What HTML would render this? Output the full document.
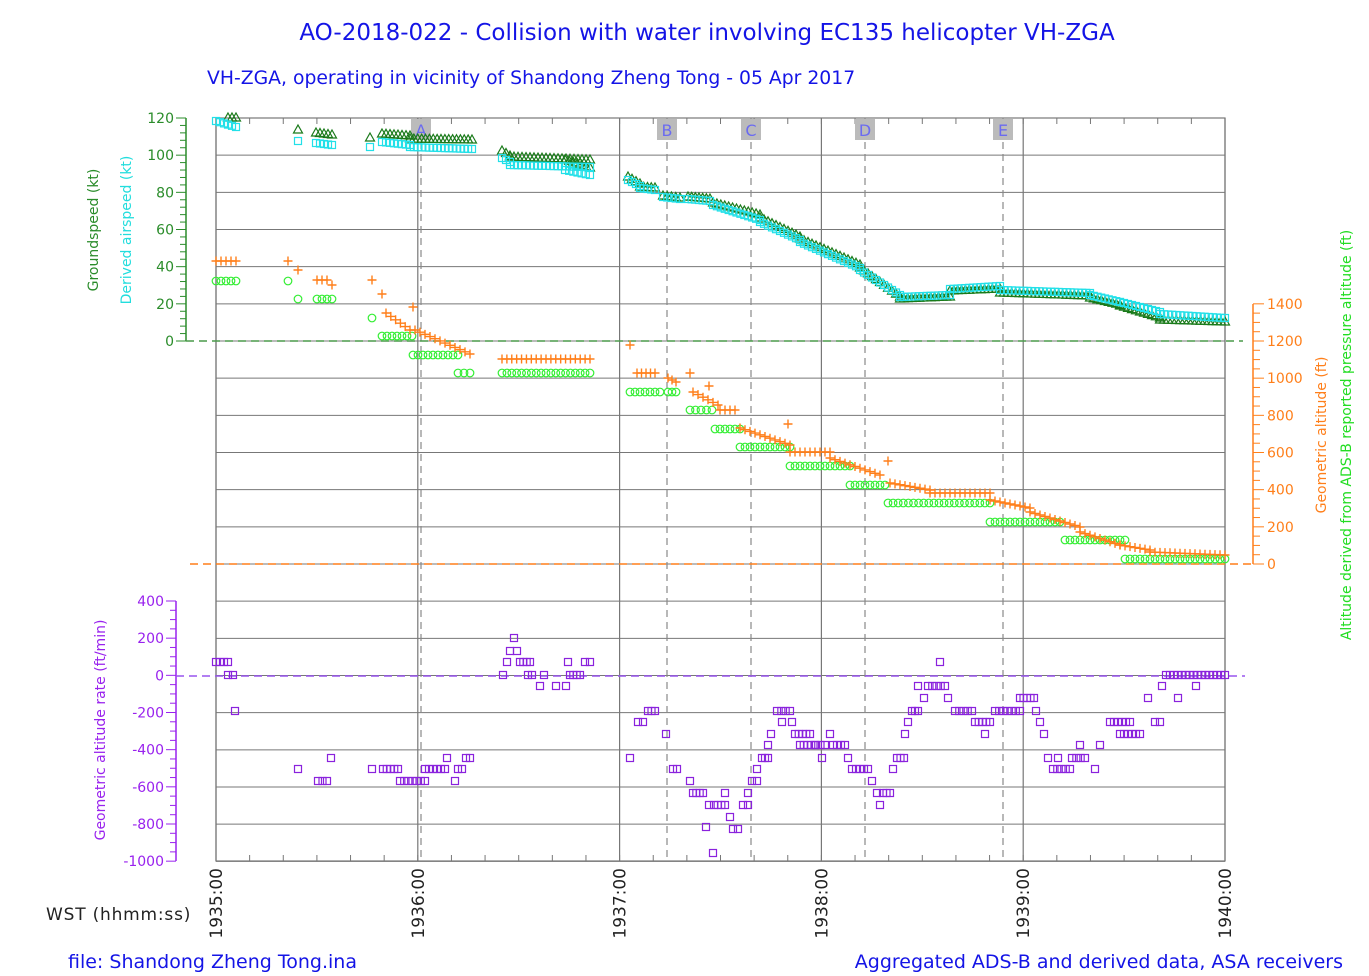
<!DOCTYPE html>
<html><head><meta charset="utf-8"><style>
body{margin:0;background:#fff}
svg{display:block;font-family:"DejaVu Sans","Liberation Sans",sans-serif}
</style></head><body>
<svg id="s" width="1369" height="976" xmlns="http://www.w3.org/2000/svg">
<text x="707" y="40" font-size="23" fill="#1414e6" text-anchor="middle">AO-2018-022 - Collision with water involving EC135 helicopter VH-ZGA</text>
<text x="207" y="84" font-size="18.8" fill="#1414e6">VH-ZGA, operating in vicinity of Shandong Zheng Tong - 05 Apr 2017</text>
<text x="68" y="968" font-size="19" fill="#1414e6">file: Shandong Zheng Tong.ina</text>
<text x="1343" y="968" font-size="19" fill="#1414e6" text-anchor="end">Aggregated ADS-B and derived data, ASA receivers</text>
<text x="46" y="920" font-size="17" fill="#222" letter-spacing="0.8">WST (hhmm:ss)</text>
<g id="grid"></g>
<g id="data"></g>
</svg>
<script>
const s=document.getElementById('grid'),d=document.getElementById('data');
const NS='http://www.w3.org/2000/svg';
function el(p,tag,a,txt){const e=document.createElementNS(NS,tag);for(const k in a)e.setAttribute(k,a[k]);if(txt!==undefined)e.textContent=txt;p.appendChild(e);return e;}
const L=216,R=1225,T=118,B=861,step=(341-118)/6;
for(let i=0;i<=20;i++){const y=T+i*step;el(s,'line',{x1:L,x2:R,y1:y,y2:y,stroke:'#777','stroke-width':1});}
el(s,'rect',{x:L,y:T,width:R-L,height:B-T,fill:'none',stroke:'#777','stroke-width':1.2});
const mw=(R-L)/5;
for(let i=0;i<=5;i++){const x=L+i*mw;el(s,'line',{x1:x,x2:x,y1:T,y2:B,stroke:'#777','stroke-width':1.2});
 el(s,'text',{x:0,y:0,'font-size':17,fill:'#222','text-anchor':'end',transform:`translate(${x+6},868) rotate(-90)`},(1935+i)+':00');}
for(let i=0;i<30;i++){const x=L+i*mw/6;el(s,'line',{x1:x,x2:x,y1:B,y2:B-6,stroke:'#777'});el(s,'line',{x1:x,x2:x,y1:T,y2:T+6,stroke:'#777'});}
[['A',421],['B',667],['C',751],['D',865],['E',1003]].forEach(([n,x])=>{
 el(s,'line',{x1:x,x2:x,y1:T,y2:B,stroke:'#888','stroke-dasharray':'7,5','stroke-width':1.2});
 el(s,'rect',{x:x-10,y:119,width:20,height:21,fill:'#bbb'});
 el(s,'text',{x:x,y:136,'font-size':16,fill:'#6b6bf0','text-anchor':'middle'},n);});
const G='#2a8c2a';
el(s,'line',{x1:186,x2:186,y1:T,y2:341,stroke:G,'stroke-width':1.5});
for(let i=0;i<=30;i++){const y=T+i*step/5;el(s,'line',{x1:i%5?180:176,x2:186,y1:y,y2:y,stroke:G});}
for(let i=0;i<=6;i++){el(s,'text',{x:174,y:T+i*step+5,'font-size':14,fill:G,'text-anchor':'end'},120-i*20);}
el(s,'text',{transform:'translate(98,230) rotate(-90)','font-size':14,fill:G,'text-anchor':'middle'},'Groundspeed (kt)');
el(s,'text',{transform:'translate(131,230) rotate(-90)','font-size':14,fill:'#22dddd','text-anchor':'middle'},'Derived airspeed (kt)');
el(s,'line',{x1:186,x2:1243,y1:341,y2:341,stroke:'#4a9a4a','stroke-dasharray':'8,5','stroke-width':1.5});
const O='#ff7f1a';
el(s,'line',{x1:1253,x2:1253,y1:304,y2:564,stroke:O,'stroke-width':1.5});
for(let i=0;i<=28;i++){const y=564-i*step/4;el(s,'line',{x1:1253,x2:i%4?1260:1264,y1:y,y2:y,stroke:O});}
for(let i=0;i<=7;i++){el(s,'text',{x:1267,y:564-i*step+5,'font-size':14,fill:O},i*200);}
el(s,'text',{transform:'translate(1326,435) rotate(-90)','font-size':14,fill:O,'text-anchor':'middle'},'Geometric altitude (ft)');
el(s,'text',{transform:'translate(1351,435) rotate(-90)','font-size':14,fill:'#22dd22','text-anchor':'middle'},'Altitude derived from ADS-B reported pressure altitude (ft)');
el(s,'line',{x1:190,x2:1253,y1:564,y2:564,stroke:O,'stroke-dasharray':'8,5','stroke-width':1.5});
const P='#9922ee';
el(s,'line',{x1:176,x2:176,y1:601,y2:861,stroke:P,'stroke-width':1.5});
for(let i=0;i<=28;i++){const y=601+i*step/4;el(s,'line',{x1:i%4?170:166,x2:176,y1:y,y2:y,stroke:P});}
for(let i=0;i<=7;i++){el(s,'text',{x:164,y:601+i*step+5,'font-size':14,fill:P,'text-anchor':'end'},400-i*200);}
el(s,'text',{transform:'translate(105,730) rotate(-90)','font-size':14,fill:P,'text-anchor':'middle'},'Geometric altitude rate (ft/min)');
el(s,'line',{x1:176,x2:1245,y1:676,y2:676,stroke:'#9955ee','stroke-dasharray':'8,5','stroke-width':1.5});
function runs(list,sp){const pts=[];list.forEach(r=>{if(r.length==2)pts.push(r);else{const[x1,x2,y1,y2]=r;const y2b=y2===undefined?y1:y2;const n=Math.max(1,Math.round((x2-x1)/sp));for(let i=0;i<=n;i++){pts.push([x1+(x2-x1)*i/n,y1+(y2b-y1)*i/n]);}}});return pts;}
function tri(x,y,c){el(d,'path',{d:`M${x} ${y-5}L${x+4.5} ${y+3}L${x-4.5} ${y+3}Z`,fill:'none',stroke:c,'stroke-width':1.2});}
function sq(x,y,c){el(d,'rect',{x:x-3.5,y:y-3.5,width:7,height:7,fill:'none',stroke:c,'stroke-width':1.2});}
function circ(x,y,c){el(d,'circle',{cx:x,cy:y,r:3.8,fill:'none',stroke:c,'stroke-width':1.2});}
function plus(x,y,c){el(d,'path',{d:`M${x-4.5} ${y}H${x+4.5}M${x} ${y-4.5}V${y+4.5}`,stroke:c,'stroke-width':1.4});}
const AS=[[216,236,121,127],[298,141],[316,332,143,145],[370,147],[382,410,142,145],[410,472,147,149],[502,510,158,162],[510,590,165,167],[565,590,170,175],[628,640,180,186],[640,655,188,190],[663,680,197,199],[688,710,199,201],[713,760,205,220],[760,800,222,240],[800,860,242,268],[860,900,270,295],[900,950,297,295],[950,1000,289,286],[1000,1090,290,293],[1090,1120,295,302],[1120,1160,302,312],[1160,1225,314,318]];
const GS=[[228,236,118],[298,130],[316,332,133,135],[370,138],[382,410,134,136],[410,472,139,140],[502,510,151,156],[510,590,157,160],[565,590,160,168],[628,640,177,184],[640,655,187,188],[663,680,196,198],[688,710,197,199],[713,760,203,215],[760,800,218,237],[800,860,239,265],[860,900,268,297],[900,950,299,297],[950,1000,291,289],[1000,1090,293,296],[1090,1120,298,305],[1120,1160,306,318],[1160,1225,320,322]];
runs(GS,4).forEach(p=>tri(p[0],p[1],'#1a7a1a'));
runs(AS,4).forEach(p=>sq(p[0],p[1],'#22e0e8'));
const PA=[[216,236,281],[288,281],[298,299],[317,332,299],[372,318],[382,412,336],[413,458,355],[458,470,373],[502,590,373],[630,660,392],[668,676,392],[690,712,410],[715,740,429],[740,790,447],[790,850,466],[850,885,485],[888,990,503],[990,1060,522],[1065,1125,540],[1125,1225,559]];
runs(PA,5).forEach(p=>circ(p[0],p[1],'#33ee33'));
const GA=[[216,236,261],[288,261],[298,270],[317,327,280],[332,285],[372,280],[382,294],[386,410,313,330],[413,307],[415,470,330,354],[502,590,359],[630,345],[637,655,373],[668,676,378,382],[690,373],[693,718,392,405],[709,386],[720,735,410],[740,790,428,445],[788,424],[790,830,452],[830,880,458,475],[888,461],[890,930,483,490],[930,990,493],[990,1030,500,508],[1030,1080,512,527],[1080,1120,532,545],[1120,1150,545,550],[1150,1225,552,555]];
runs(GA,5).forEach(p=>plus(p[0],p[1],'#ff7f1a'));
const RT=[[216,228,662],[228,233,675],[235,711],[298,769],[318,327,781],[331,758],[372,769],[383,398,769],[400,425,781],[425,445,769],[447,758],[455,781],[458,462,769],[466,470,758],[503,675],[507,662],[510,651],[514,638],[517,651],[520,530,662],[528,532,675],[540,686],[544,675],[556,686],[566,686],[568,662],[570,580,675],[585,590,662],[630,758],[638,643,722],[648,655,711],[666,734],[673,677,769],[690,781],[693,703,793],[706,827],[709,805],[713,853],[714,725,805],[725,793],[730,817],[733,738,829],[743,748,805],[748,793],[752,757,781],[757,769],[762,768,758],[768,745],[771,734],[777,790,711],[782,722],[792,722],[795,810,734],[800,815,745],[816,825,745],[822,758],[830,734],[833,845,745],[848,758],[852,868,769],[872,781],[877,793],[880,805],[883,890,793],[893,769],[897,904,758],[905,734],[908,722],[912,918,711],[918,686],[924,698],[928,945,686],[940,662],[948,698],[955,972,711],[975,990,722],[985,734],[995,1020,711],[1020,1034,698],[1036,711],[1040,722],[1044,734],[1048,758],[1053,1070,769],[1058,758],[1072,1085,758],[1080,745],[1095,769],[1100,745],[1110,1130,722],[1120,1140,734],[1148,698],[1155,1160,722],[1162,686],[1166,1225,675],[1178,698],[1196,686]];
runs(RT,4).forEach(p=>sq(p[0],p[1],'#8a22dd'));
</script>
</body></html>
